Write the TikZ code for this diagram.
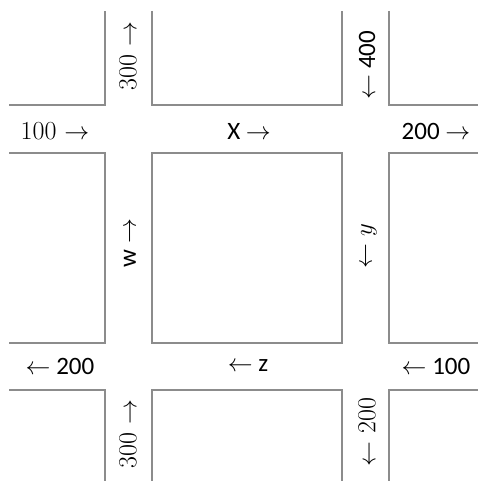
\documentclass[tikz,border=0pt]{standalone}
\usepackage{fontspec}
\setmainfont{Carlito}
\newfontfamily\serifnum{Latin Modern Roman}
\begin{document}
\begin{tikzpicture}[x=1pt,y=-1pt,
  wall/.style={draw=black!45, line width=1.4pt, line join=miter},
  lbl/.style={inner sep=0pt, font=\fontsize{25}{27}\selectfont},
  slbl/.style={inner sep=0pt, font=\fontsize{26}{28}\selectfont\serifnum},
  vert/.style={rotate=90}]
\useasboundingbox (0,0) rectangle (478,481);
% blocks
\draw[wall] (9,105) -- (105,105) -- (105,11);
\draw[wall] (152,11) -- (152,105) -- (342,105) -- (342,11);
\draw[wall] (389,11) -- (389,105) -- (478,105);
\draw[wall] (9,153) -- (105,153) -- (105,343) -- (9,343);
\draw[wall] (152,153) rectangle (342,343);
\draw[wall] (478,153) -- (389,153) -- (389,343) -- (478,343);
\draw[wall] (9,390) -- (105,390) -- (105,481);
\draw[wall] (152,481) -- (152,390) -- (342,390) -- (342,481);
\draw[wall] (389,481) -- (389,390) -- (478,390);
% labels
\node[slbl] (l100r) at (55,131) {100 $\rightarrow$};
\node[lbl] (lx) at (249,131) {X $\rightarrow$};
\node[lbl] (l200r) at (436,131) {200 $\rightarrow$};
\node[lbl] (l200l) at (60,366) {$\leftarrow$ 200};
\node[lbl] (lz) at (248,366) {$\leftarrow$ z};
\node[lbl] (l100l) at (436,366) {$\leftarrow$ 100};
\node[slbl,vert] (l300t) at (128,56) {300 $\rightarrow$};
\node[lbl,vert] (l400) at (367,65) {$\leftarrow$ 400};
\node[lbl,vert] (lw) at (130,243) {w $\rightarrow$};
\node[slbl,vert] (ly) at (369,246) {$\leftarrow$ $y$};
\node[slbl,vert] (l300b) at (128,434) {300 $\rightarrow$};
\node[slbl,vert] (l200b) at (367,432) {$\leftarrow$ 200};
\end{tikzpicture}
\end{document}
